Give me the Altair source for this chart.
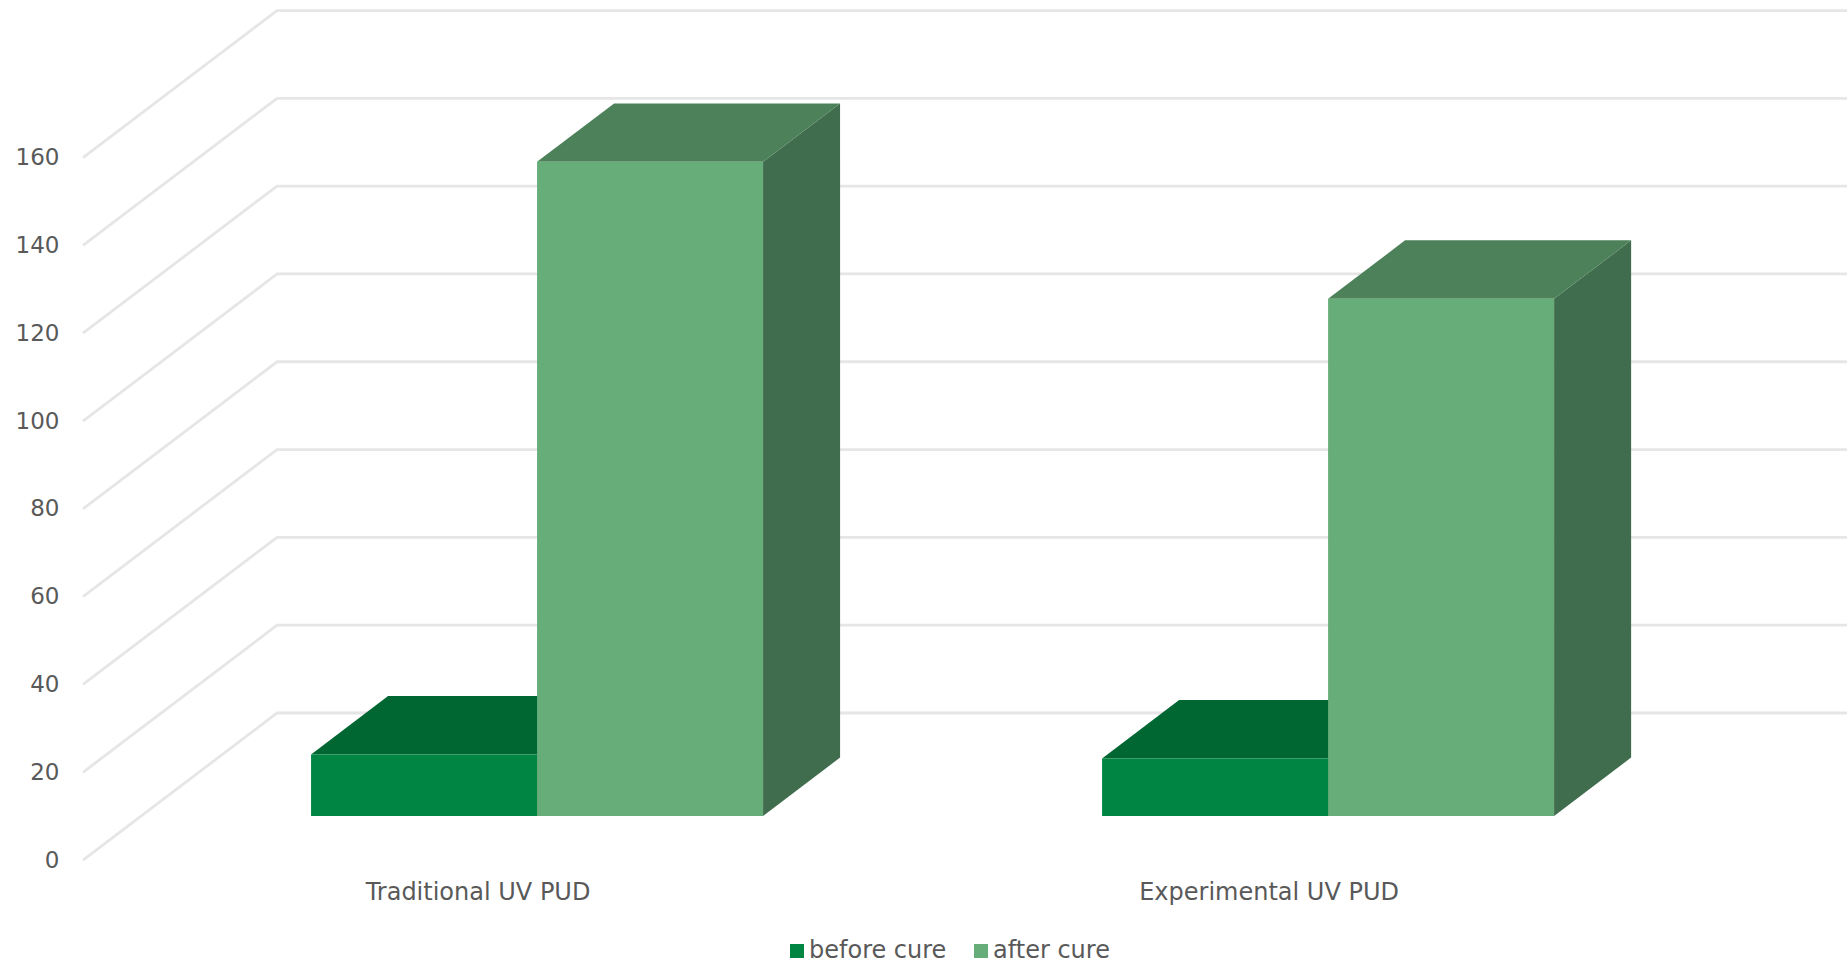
import altair as alt
import pandas as pd

# Chart values
categories = ["Traditional UV PUD", "Experimental UV PUD"]
before_cure = [14.0, 13.1]
after_cure = [149.0, 117.8]
ticks = [0, 20, 40, 60, 80, 100, 120, 140, 160]
series_names = ["before cure", "after cure"]

# Oblique projection constants, in axis units (x: category spacing, y: value units)
WALL_DX = 0.2453
WALL_DY = 33.5
BAR_W = 0.2857
T_FRONT = 0.30
T_BACK = 0.697
X_DOMAIN = [-0.574, 1.656]
Y_DOMAIN = [-23.9, 195.9]

FONT = "DejaVu Sans"
TEXT = "#595959"
GRID = "#E6E6E6"
FRONT = {"before cure": "#008542", "after cure": "#67AD7A"}
TOP = {"before cure": "#006632", "after cure": "#4C8159"}
SIDE = {"before cure": "#00552A", "after cure": "#406D4D"}


def px(u, t):
    # u is measured on the plane of the bars' front faces
    return u + WALL_DX * (t - T_FRONT)


def py(v, t):
    return v + WALL_DY * t


x_scale = alt.Scale(domain=X_DOMAIN, nice=False, zero=False)
y_scale = alt.Scale(domain=Y_DOMAIN, nice=False, zero=False)
# Every layer carries the same value axis, so the layered chart keeps it
y_axis = alt.Axis(
    values=ticks,
    domain=False,
    ticks=False,
    grid=False,
    labelFont=FONT,
    labelFontSize=23,
    labelColor=TEXT,
    labelPadding=24,
)
X = alt.X("x:Q", scale=x_scale, axis=None)
Y = alt.Y("y:Q", scale=y_scale, axis=y_axis, title=None)

# Wall gridlines: front edge, back corner, then along the back wall
grid_rows = []
for v in ticks:
    for x, t in [(X_DOMAIN[0], 0), (X_DOMAIN[0] + WALL_DX, 1), (X_DOMAIN[1], 1)]:
        grid_rows.append({"tick": v, "x": x, "y": py(v, t)})
grid = (
    alt.Chart(pd.DataFrame(grid_rows))
    .mark_line(color=GRID, strokeWidth=2.8)
    .encode(x=X, y=Y, detail="tick:N")
)


def side_rows(left, value):
    right = left + BAR_W
    return [
        {"x": px(right, T_FRONT), "y": py(value, T_FRONT), "y2": py(0, T_FRONT)},
        {"x": px(right, T_BACK), "y": py(value, T_BACK), "y2": py(0, T_BACK)},
    ]


def top_rows(left, value):
    right = left + BAR_W
    front = py(value, T_FRONT)
    back = py(value, T_BACK)
    return [
        {"x": px(left, T_FRONT), "y": front, "y2": front},
        {"x": px(left, T_BACK), "y": back, "y2": front},
        {"x": px(right, T_FRONT), "y": back, "y2": front},
        {"x": px(right, T_BACK), "y": back, "y2": back},
    ]


def bar_layers(name, values, offset):
    side, top, front = [], [], []
    for i, value in enumerate(values):
        left = i + offset
        side += [dict(r, bar=i) for r in side_rows(left, value)]
        top += [dict(r, bar=i) for r in top_rows(left, value)]
        front.append(
            {
                "series": name,
                "x": px(left, T_FRONT),
                "x2": px(left + BAR_W, T_FRONT),
                "y": py(value, T_FRONT),
                "y2": py(0, T_FRONT),
            }
        )
    side_mark = (
        alt.Chart(pd.DataFrame(side))
        .mark_area(color=SIDE[name])
        .encode(x=X, y=Y, y2="y2:Q", detail="bar:N")
    )
    top_mark = (
        alt.Chart(pd.DataFrame(top))
        .mark_area(color=TOP[name])
        .encode(x=X, y=Y, y2="y2:Q", detail="bar:N")
    )
    front_mark = (
        alt.Chart(pd.DataFrame(front))
        .mark_rect()
        .encode(
            x=X,
            x2="x2:Q",
            y=Y,
            y2="y2:Q",
            color=alt.Color(
                "series:N",
                scale=alt.Scale(
                    domain=series_names,
                    range=[FRONT[n] for n in series_names],
                ),
                legend=alt.Legend(
                    title=None,
                    orient="none",
                    legendX=702,
                    legendY=939,
                    direction="horizontal",
                    symbolType="square",
                    symbolSize=196,
                    symbolStrokeWidth=0,
                    labelFont=FONT,
                    labelFontSize=24,
                    labelColor=TEXT,
                    labelOffset=0,
                    columnPadding=22,
                ),
            ),
        )
    )
    return [side_mark, top_mark, front_mark]


layers = [grid]
# The second series' boxes sit directly to the right of the first
layers += bar_layers("before cure", before_cure, -BAR_W)
layers += bar_layers("after cure", after_cure, 0.0)

labels = (
    alt.Chart(
        pd.DataFrame(
            {
                "name": categories,
                "x": [i - 0.0746 for i in range(len(categories))],
                "y": [-7.5] * len(categories),
            }
        )
    )
    .mark_text(font=FONT, fontSize=24, color=TEXT, align="center", baseline="middle")
    .encode(x=X, y=Y, text="name:N")
)
layers.append(labels)

chart = (
    alt.layer(*layers)
    .properties(
        width=1764,
        height=965,
        autosize=alt.AutoSizeParams(type="none"),
        padding={"left": 83, "top": 0, "right": 0, "bottom": 0},
        background="white",
    )
    .configure_view(stroke=None)
)

chart.save("out.html", embed_options={"renderer": "svg", "actions": False})
